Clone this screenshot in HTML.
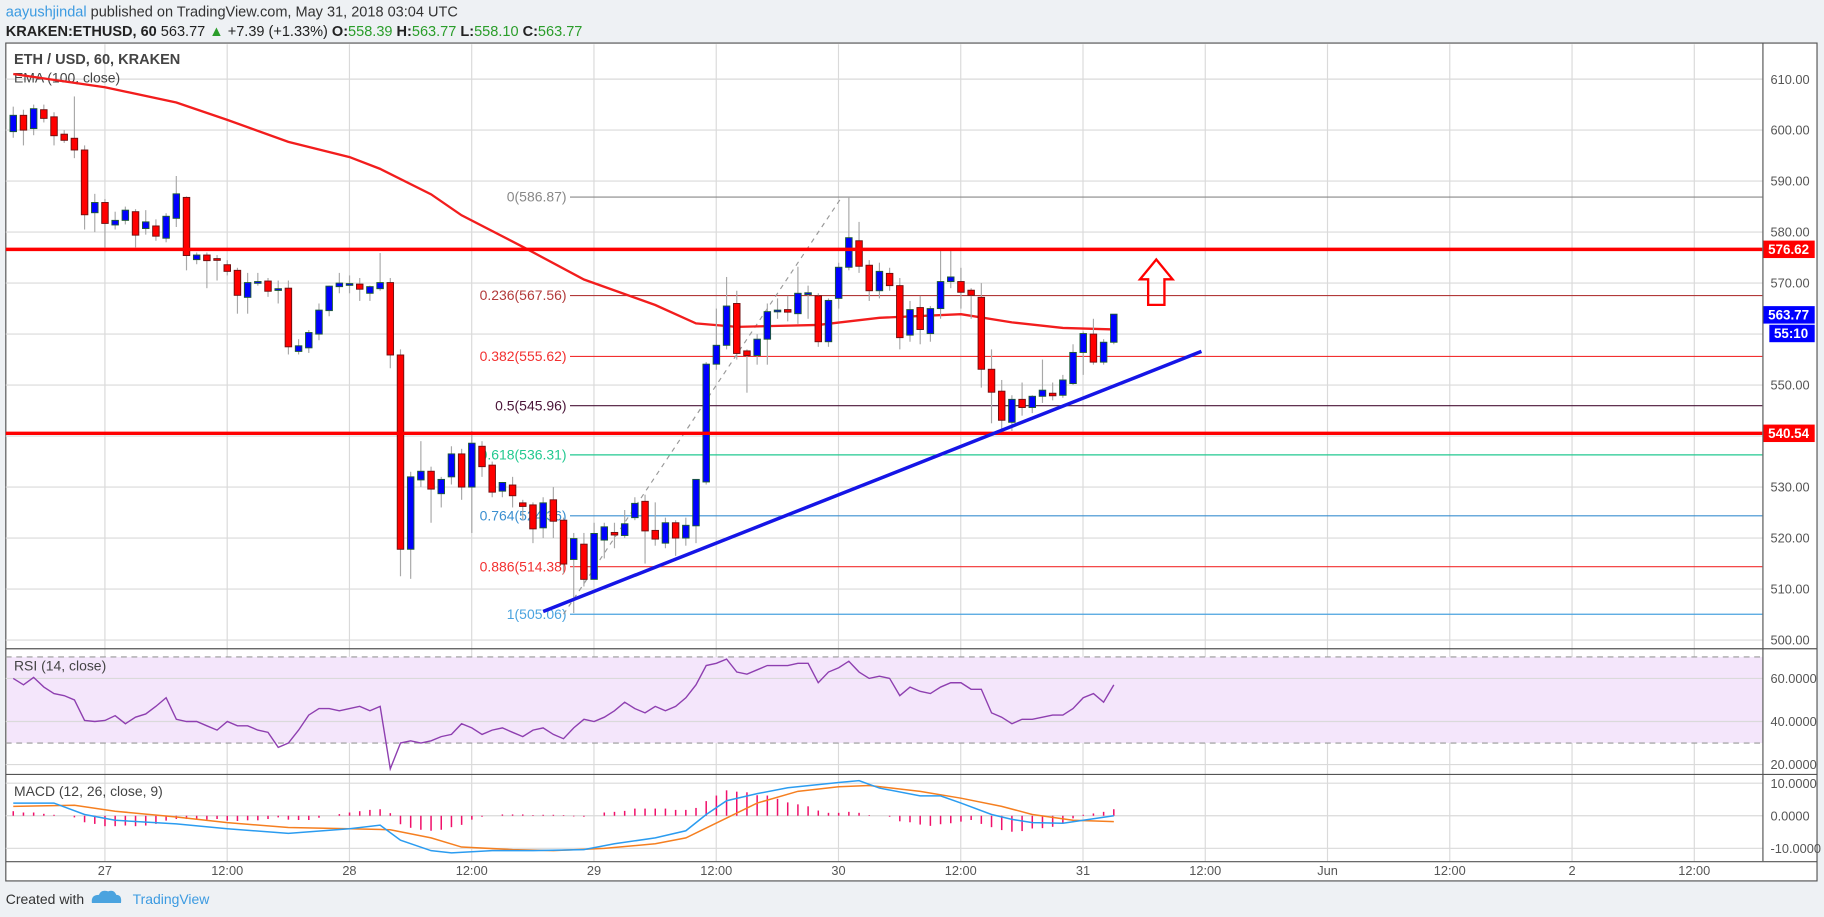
<!DOCTYPE html>
<html><head><meta charset="utf-8"><style>
html,body{margin:0;padding:0;background:#eef1f4;}
svg{display:block;font-family:"Liberation Sans",sans-serif;}
</style></head><body>
<svg id="chart" width="1824" height="917" viewBox="0 0 1568 788" preserveAspectRatio="none" xmlns="http://www.w3.org/2000/svg">
<rect x="0" y="0" width="1568" height="788" fill="#eef1f4"/>
<g>
<text x="5" y="14" font-size="12.5" fill="#333"><tspan fill="#3b9ae1">aayushjindal</tspan> published on TradingView.com, May 31, 2018 03:04 UTC</text>
<text x="5" y="31" font-size="12.5" fill="#222"><tspan font-weight="bold">KRAKEN:ETHUSD, 60</tspan> 563.77 <tspan fill="#2a9d2a">▲</tspan> +7.39 (+1.33%) <tspan font-weight="bold">O:</tspan><tspan fill="#2a9d2a">558.39</tspan> <tspan font-weight="bold">H:</tspan><tspan fill="#2a9d2a">563.77</tspan> <tspan font-weight="bold">L:</tspan><tspan fill="#2a9d2a">558.10</tspan> <tspan font-weight="bold">C:</tspan><tspan fill="#2a9d2a">563.77</tspan></text>
</g>
<rect x="5" y="37" width="1557" height="720" fill="#fff" stroke="#555" stroke-width="1"/>
<g id="grid"></g>
<g id="main"></g>
<g id="rsi"></g>
<g id="macd"></g>
<g id="axes"></g>
<g>
<text x="5" y="777" font-size="12" fill="#333">Created with</text>
<path d="M79 776 q-1 -7 6 -7 q2 -5 8 -3 q5 -2 7 3 q5 0 4 7 z" fill="#4aa3df"/>
<text x="114" y="777" font-size="12" fill="#3b9ae1">TradingView</text>
</g>
</svg>
<script>
// ---- data ----
const opens=[599.7,602.9,600.3,604,602.6,599.2,598.4,596.1,583.8,585.8,581.4,582.3,584,580.7,581.2,578.8,582.7,586.8,574.6,575.5,574.8,573.6,572.5,567.2,570.3,570.4,568.9,569,556.6,557.3,560,564.6,569.3,569.9,569.8,568,568.9,570.1,555.9,517.8,531.4,533.1,528.7,532,536.5,530,538,534.3,529.2,530.4,526.9,526.5,522,527.5,523.5,515.8,518.8,511.9,519.6,521.1,520.5,524,527.2,521.5,519,523,520,522.4,531,554.1,557.8,566,556.7,555.8,559,564.5,564.8,564,568,567.5,558.5,567,573.1,578.3,573.5,568.5,571.9,569.5,559.8,565.2,560.1,565,570.3,570.3,568.6,567.2,553.1,548.8,542.7,547.2,545.6,547.8,548.4,548,550.3,556.4,560,554.5,558.4];
const highs=[604.6,604,605,605,603.5,600,606.6,597,587.5,586.5,584,585,584.5,584.3,582.5,583.7,591,587,576,576,575.5,574.5,573,572,572,571,570.5,570.5,559,560.8,566,569.5,572,571.5,571,569.5,575.9,571,557,533,539,534,532,538,537.5,541,539,535,531,532,527.5,527,528,530,524,521,521,523,523,523,525.5,528,528.5,527,524,523.5,524,531.5,554.5,565,571.2,568.5,557,560,566,567,567.5,573.2,569.5,568,567,574,586.87,582,574.5,574,573,571,566.5,567.5,565.5,576.5,576.8,573,569,570,557,551,548,550.5,548,555,550.5,552,558,560.5,563,559,563.9];
const lows=[598.5,597,599,601.5,597,597.5,594.5,580.5,580,577,580.5,581.5,577,579.5,578.3,578,581,572.5,573.7,569,570.5,571.5,564,564,569.5,567.3,566,556,556,556.3,558.8,563.5,568,568,566.5,566.5,568.5,553.3,512.5,512,530,523,526,530.5,527.5,521,532,528,528,526,523.5,519,520,520,513,505.3,510.5,512,516,518,520,523.5,515,518.5,518,516.5,518.5,519,530.5,553,557,555,548.5,554,554,563,562.5,562,563,557.5,557.5,565,572.5,572,566.5,567,568.5,557,558.5,558,558.5,563,569,565,563,549.5,542.5,541,541,544,544.5,546.5,547,547.5,550,552,554,554,558];
const closes=[602.9,600,604.2,602.3,598.9,598,596.1,583.4,585.8,581.7,582.3,584.3,579.4,582,579.2,583.1,587.5,575.4,575.5,574.4,574.5,572.3,567.6,570.1,570.3,568.4,568.9,557.5,557.7,560.3,564.7,569.4,570,569.9,568.8,569.3,570.1,555.9,517.8,532,533.1,529.6,531.5,536.5,530,538.6,534,529,530.9,528.3,526.2,521.8,526.9,523.3,514.9,519.9,511.9,520.9,522.2,520.6,522.8,526.8,521.4,519.8,523,520,522.5,531.5,554.1,557.8,565.5,556.2,555.8,559,564.4,564.7,564.3,568,568.1,558.5,566.6,573.1,578.9,573.3,568.5,572.3,569.5,559.3,564.8,560.9,565,570.3,571.2,568.2,567.6,553.1,548.6,543.1,547.2,545.6,547.8,549,547.9,551,556.4,560.1,554.5,558.4,563.9];
const emaIdx=[0,9,16,21,27,33,36,41,44,50,56,63,67,71,79,85,93,98,103,108];
const emaVals=[611,608.4,605.4,602,597.7,594.7,592.4,587.4,583.3,577.1,570.7,565.7,562.1,561.4,561.8,563.2,563.9,562.3,561.2,560.9];
const rsiVals=[60,57,60.5,56,53,52,50,40.5,40,40.5,42.7,39,42,43.5,47,51,41,40,40,38,36,40,38,38,36,35,28,30,36,43,46,46,45,46,47,45,47,18,30,31,30,31,33,34,39,37,34,36,37,35,33,36,37,34,32,37,41,40,42,45,49,46,44,47,45,47,51,57,66,67,69,63,62,64,66,66,66,67,67,58,63,65,68,63,60,61,60,52,56,54,53,56,58,58,55,55,44,42,39,41,41,42,43,43,46,51,53,49,57];
const macdIdx=[0,4,7,10,16,21,27,33,36,38,41,43,47,51,56,59,63,66,68,70,73,76,81,83,85,89,91,93,96,98,100,103,105,108];
const macdVals=[3.9,3.9,0.4,-1.4,-2.5,-4,-5.4,-4,-2.9,-7.5,-10.7,-11.4,-10.7,-10.7,-10.4,-8.6,-6.8,-4.6,0.4,4.6,6.8,8.6,10.2,10.8,8.5,6.1,6.1,3.9,0.4,-1.1,-2.1,-2.3,-1.4,0];
const sigIdx=[0,6,10,16,21,27,33,37,41,44,49,53,58,63,66,70,73,77,81,84,89,93,97,100,104,108];
const sigVals=[2.9,3.2,1.4,-0.4,-2.1,-3.6,-4,-4.3,-6.8,-9.6,-10.4,-10.7,-10,-8.6,-6.8,-0.7,3.9,7.5,8.9,9.3,7.5,5.4,2.9,0.4,-1.4,-1.8];
const histVals=[1.4,1,1,0.6,0.3,0,-0.5,-2,-2.5,-3.2,-3.2,-3,-3.2,-3,-2.5,-1.5,-1,-1,-1,-1.2,-1,-1.5,-1.6,-1.4,-1.4,-1,-0.5,-1.2,-1.3,-1.3,-0.6,0,0.5,1,1.4,1.8,2,0.8,-2.6,-3.7,-4.3,-4.6,-4.3,-3.5,-2.8,-1.2,-0.3,0,0.4,0.4,0.4,0.2,0.3,0.3,0.2,-0.2,-0.3,0,1,1.2,1.5,2.2,2.2,2.2,2.2,1.8,1.8,2.4,4.5,6.2,7.8,7.4,7.2,6.3,6.2,5.2,4.1,3.5,2.9,1.6,0.9,0.9,1.2,0.9,0.2,0,-0.3,-1.7,-2,-2.7,-3.1,-2.6,-2.3,-1.8,-1.3,-2.5,-3.5,-4.4,-4.9,-4.7,-3.9,-3.8,-3.4,-2.2,-0.8,0.3,0.7,1.2,2];
const priceTicks=[610,600,590,580,570,560,550,540,530,520,510,500];
const rsiTicks=[60,40,20];
const macdTicks=[10,0,-10];
const timeLabels=["27","12:00","28","12:00","29","12:00","30","12:00","31","12:00","Jun","12:00","2","12:00"];
const fibLevels=[0,0.236,0.382,0.5,0.618,0.764,0.886,1];
const fibPrices=[586.87,567.56,555.62,545.96,536.31,524.36,514.38,505.06];
const fibColors=["#888","#b23a3a","#f23030","#4a1538","#22c990","#3a8fd0","#f23030","#4aa3df"];
const hLevels=[576.62,540.54];
const trendPrices=[505.6,556.6]; const trendIdx=[52,116.6];

// ---- scales ----
const NS="http://www.w3.org/2000/svg";
const X0=5,X1=1515;
const xI=n=>11.4+8.76*n;
const xT=k=>90.2+105.1*k;
const yP=p=>550-(p-500)*4.382;
const yR=v=>583+(60-v)*1.85;
const yM=v=>701-v*2.8;
function mk(tag,attrs,parent){const e=document.createElementNS(NS,tag);for(const k in attrs)e.setAttribute(k,attrs[k]);parent.appendChild(e);return e;}
const G=id=>document.getElementById(id);
const grid=G('grid'),main=G('main'),rsi=G('rsi'),macd=G('macd'),axes=G('axes');

// grid
timeLabels.forEach((t,k)=>{const l=mk('line',{x1:xT(k),x2:xT(k),y1:38,y2:740,stroke:'#dadada','stroke-width':1},grid);

});
priceTicks.forEach(p=>{const l=mk('line',{x1:X0,x2:X1,y1:yP(p),y2:yP(p),stroke:'#dadada','stroke-width':1},grid);

});
// pane separators & axis line
[[557.5],[665.5],[740.5]].forEach(([y])=>{const l=mk('line',{x1:X0,x2:1562,y1:y,y2:y,stroke:'#555','stroke-width':1},axes);

});
const ax=mk('line',{x1:1515.5,x2:1515.5,y1:37,y2:740,stroke:'#555','stroke-width':1},axes);



// titles
let t=mk('text',{x:12,y:55,'font-size':12.5,'font-weight':'bold',fill:'#444'},main);t.textContent='ETH / USD, 60, KRAKEN';


t=mk('text',{x:12,y:71,'font-size':12,fill:'#444'},main);t.textContent='EMA (100, close)';



// fib retracement
fibLevels.forEach((f,i)=>{const y=yP(fibPrices[i]);
const l=mk('line',{x1:490,x2:X1,y1:y,y2:y,stroke:fibColors[i],'stroke-width':1},main);


const tx=mk('text',{x:487,y:y+4,'font-size':12,fill:fibColors[i],'text-anchor':'end'},main);
tx.textContent=f+'('+fibPrices[i].toFixed(2)+')';

});
const dg=mk('line',{x1:xI(54),y1:yP(fibPrices[7]),x2:xI(81.3),y2:yP(fibPrices[0]),stroke:'#999','stroke-width':1,'stroke-dasharray':'4,4'},main);



// EMA
let d='';emaIdx.forEach((n,i)=>{d+=(i?'L':'M')+xI(n).toFixed(1)+' '+yP(emaVals[i]).toFixed(1);});
const ema=mk('path',{d,fill:'none',stroke:'#f21d1d','stroke-width':2},main);



// candles
opens.forEach((o,n)=>{const c=closes[n],up=c>=o,x=xI(n);
const g=mk('g',{},main);


mk('line',{x1:x,x2:x,y1:yP(highs[n]),y2:yP(lows[n]),stroke:'#a8a8a8','stroke-width':1},g);
const top=yP(Math.max(o,c)),h=Math.max(1.5,yP(Math.min(o,c))-top);
mk('rect',{x:x-2.8,y:top,width:5.6,height:h,fill:up?'#0000ff':'#ff0000',stroke:up?'#1d5a34':'#6e0f0f','stroke-width':0.8},g);});

// horizontal levels
hLevels.forEach(p=>{const l=mk('line',{x1:X0,x2:X1,y1:yP(p),y2:yP(p),stroke:'#ff0000','stroke-width':3},main);

});
// trendline
const tl=mk('line',{x1:xI(trendIdx[0]),y1:yP(trendPrices[0]),x2:xI(trendIdx[1]),y2:yP(trendPrices[1]),stroke:'#1515e6','stroke-width':3},main);


// arrow
const ar=mk('path',{d:'M994 223 L1008 240 L1001 240 L1001 262 L987 262 L987 240 L980 240 Z',fill:'none',stroke:'#ff0000','stroke-width':2},main);



// price axis labels
priceTicks.forEach(p=>{const tx=mk('text',{x:1522,y:yP(p)+4,'font-size':11,fill:'#555'},axes);tx.textContent=p.toFixed(2);

});
function tag(y,txt,col,x0,name){const r=mk('rect',{x:x0,y:y-7.5,width:1560-x0,height:15,fill:col},axes);


const tx=mk('text',{x:x0+4,y:y+4,'font-size':11.5,'font-weight':'bold',fill:'#fff'},axes);tx.textContent=txt;}
tag(yP(576.62),'576.62','#ff0000',1516,'resistance-price-tag');
tag(yP(563.77),'563.77','#0000ff',1516,'last-price-tag');
tag(yP(563.77)+16,'55:10','#0000ff',1521,'countdown-tag');
tag(yP(540.54),'540.54','#ff0000',1516,'support-price-tag');

// RSI
const band=mk('rect',{x:X0+1,y:yR(70),width:X1-X0-1,height:yR(30)-yR(70),fill:'#f4e6fb'},rsi);


[70,30].forEach(v=>{const l=mk('line',{x1:X0,x2:X1,y1:yR(v),y2:yR(v),stroke:'#999','stroke-width':1,'stroke-dasharray':'5,4'},rsi);

});
rsiTicks.forEach(v=>{const l=mk('line',{x1:X0,x2:X1,y1:yR(v),y2:yR(v),stroke:'#dadada','stroke-width':1},rsi);
const tx=mk('text',{x:1522,y:yR(v)+4,'font-size':11,fill:'#555'},rsi);tx.textContent=v.toFixed(4);

});
d='';rsiVals.forEach((v,n)=>{d+=(n?'L':'M')+xI(n).toFixed(1)+' '+yR(v).toFixed(1);});
const rl=mk('path',{d,fill:'none',stroke:'#8e3fb0','stroke-width':1.2},rsi);


t=mk('text',{x:12,y:576,'font-size':12,fill:'#444'},rsi);t.textContent='RSI (14, close)';



// MACD
macdTicks.forEach(v=>{const l=mk('line',{x1:X0,x2:X1,y1:yM(v),y2:yM(v),stroke:'#dadada','stroke-width':1},macd);
const tx=mk('text',{x:1522,y:yM(v)+4,'font-size':11,fill:'#555'},macd);tx.textContent=v.toFixed(4);

});
histVals.forEach((v,n)=>{const b=mk('line',{x1:xI(n),x2:xI(n),y1:yM(0),y2:yM(v),stroke:'#f0106a','stroke-width':1.3},macd);

});
d='';sigIdx.forEach((n,i)=>{d+=(i?'L':'M')+xI(n).toFixed(1)+' '+yM(sigVals[i]).toFixed(1);});
let sl=mk('path',{d,fill:'none',stroke:'#f57f20','stroke-width':1.3},macd);


d='';macdIdx.forEach((n,i)=>{d+=(i?'L':'M')+xI(n).toFixed(1)+' '+yM(macdVals[i]).toFixed(1);});
sl=mk('path',{d,fill:'none',stroke:'#2b9cf0','stroke-width':1.3},macd);


t=mk('text',{x:12,y:684,'font-size':12,fill:'#444'},macd);t.textContent='MACD (12, 26, close, 9)';



// time axis
timeLabels.forEach((s,k)=>{const tx=mk('text',{x:xT(k),y:752,'font-size':11,fill:'#555','text-anchor':'middle'},axes);tx.textContent=s;

});
</script>
</body></html>
